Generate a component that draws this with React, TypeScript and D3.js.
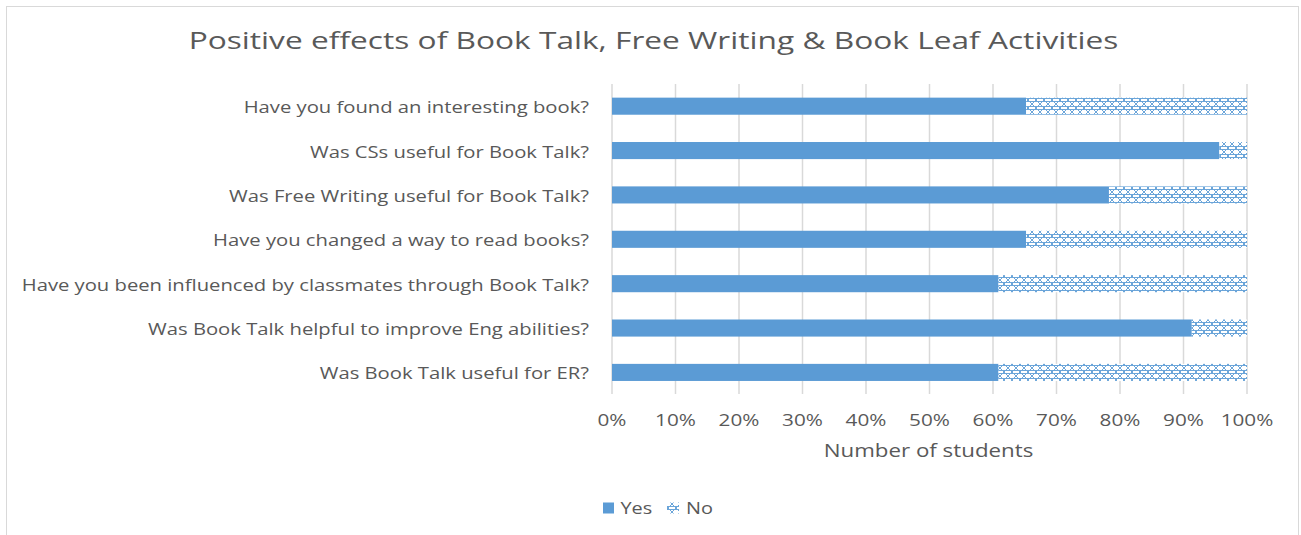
import React from "react";
import * as d3 from "d3";

const categories = [
  "Have you found an interesting book?",
  "Was CSs useful for Book Talk?",
  "Was Free Writing useful for Book Talk?",
  "Have you changed a way to read books?",
  "Have you been influenced by classmates through Book Talk?",
  "Was Book Talk helpful to improve Eng abilities?",
  "Was Book Talk useful for ER?",
];
const yesCounts = [15, 22, 18, 15, 14, 21, 14];
const noCounts = [8, 1, 5, 8, 9, 2, 9];
const seriesNames = ["Yes", "No"];
const xTicks = [0, 0.1, 0.2, 0.3, 0.4, 0.5, 0.6, 0.7, 0.8, 0.9, 1.0];
const title = "Positive effects of Book Talk, Free Writing & Book Leaf Activities";
const xTitle = "Number of students";

const W = 1301;
const H = 535;
const BLUE = "#5B9BD5";
const TEXT = "#595959";
const FONT = "'Open Sans', 'Noto Sans', sans-serif";

type STextProps = {
  x: number;
  y: number;
  sx: number;
  size: number;
  anchor?: "start" | "middle" | "end";
  children: React.ReactNode;
};

function SText({ x, y, sx, size, anchor = "start", children }: STextProps) {
  return (
    <text
      transform={`translate(${x},${y}) scale(${sx},1)`}
      textAnchor={anchor}
      fontFamily={FONT}
      fontSize={size}
      fill={TEXT}
    >
      {children}
    </text>
  );
}

export default function App() {
  const x = d3.scaleLinear().domain([0, 1]).range([612, 1247]);
  const y = d3
    .scaleBand<string>()
    .domain(categories)
    .range([84, 394.6])
    .paddingInner(0.615)
    .paddingOuter(0.3075);
  const rows = categories.map((c, i) => {
    const total = yesCounts[i] + noCounts[i];
    return { c, yes: yesCounts[i] / total, no: noCounts[i] / total };
  });
  const fmt = d3.format(".0%");

  return (
    <svg
      width={W}
      height={H}
      style={{ position: "absolute", left: 0, top: 0, display: "block" }}
    >
      <defs>
        <pattern id="hatch" patternUnits="userSpaceOnUse" width="8" height="8">
          <rect width="8" height="8" fill="#ffffff" />
          <path
            d="M0,0 L8,8 M8,0 L0,8 M0,2.5 L8,2.5 M0,5.5 L8,5.5"
            stroke={BLUE}
            strokeWidth="1"
            opacity="0.9"
          />
        </pattern>
      </defs>
      <rect x={0} y={0} width={W} height={H} fill="#ffffff" />
      <rect
        x={6.5}
        y={6.5}
        width={1292}
        height={540}
        fill="#ffffff"
        stroke="#d9d9d9"
        strokeWidth={1}
      />
      <SText x={653.5} y={49} sx={1.32} size={24} anchor="middle">
        {title}
      </SText>
      {xTicks.map((t) => (
        <line
          key={"g" + t}
          x1={x(t)}
          x2={x(t)}
          y1={84}
          y2={394}
          stroke="#d9d9d9"
          strokeWidth={1.5}
        />
      ))}
      {rows.map((r) => {
        const cy = (y(r.c) as number) + y.bandwidth() / 2;
        return (
          <g key={r.c}>
            <rect
              x={x(0)}
              y={y(r.c)}
              width={x(r.yes) - x(0)}
              height={y.bandwidth()}
              fill={BLUE}
            />
            <rect
              x={x(r.yes)}
              y={y(r.c)}
              width={x(r.yes + r.no) - x(r.yes)}
              height={y.bandwidth()}
              fill="url(#hatch)"
            />
            <SText x={589} y={cy + 7} sx={1.19} size={17} anchor="end">
              {r.c}
            </SText>
          </g>
        );
      })}
      {xTicks.map((t) => (
        <SText key={"t" + t} x={x(t)} y={426} sx={1.22} size={17} anchor="middle">
          {fmt(t)}
        </SText>
      ))}
      <SText x={(x(0) + x(1)) / 2 - 1} y={457} sx={1.24} size={18} anchor="middle">
        {xTitle}
      </SText>
      <g>
        <rect x={603} y={502.5} width={11} height={11} fill={BLUE} />
        <SText x={620.5} y={514} sx={1.17} size={17}>
          {seriesNames[0]}
        </SText>
        <rect x={667} y={502.5} width={12} height={11} fill="url(#hatch)" />
        <SText x={686} y={514} sx={1.17} size={17}>
          {seriesNames[1]}
        </SText>
      </g>
    </svg>
  );
}
